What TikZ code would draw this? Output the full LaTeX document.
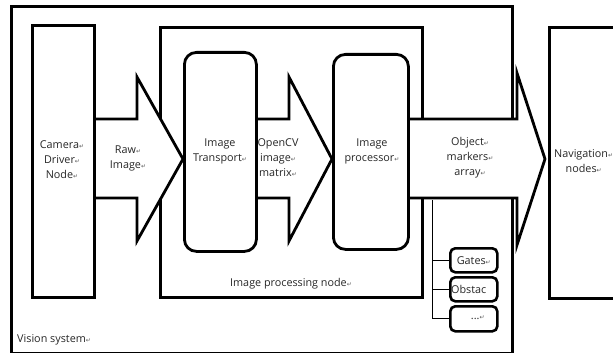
\documentclass[tikz,border=0pt]{standalone}
\usepackage{fontspec}
\setmainfont{Open Sans}
\newfontfamily\markfont{DejaVu Sans}
% paragraph mark that follows each line of text
\newcommand{\pmark}{{\markfont\fontsize{6}{6}\selectfont\color{black!65}↵}}
\tikzset{
  frame/.style={draw, line width=2.9pt, inner sep=0pt, anchor=north west},
  box/.style={draw, fill=white, line width=2.8pt, inner sep=0pt, anchor=north west},
  rbox/.style={box, rounded corners=12pt},
  tag/.style={box, line width=2.6pt, rounded corners=5pt},
  blk/.style={draw, fill=white, line width=2.8pt, line join=miter},
  lbl/.style={font=\fontsize{10.8}{15}\selectfont, align=center, inner sep=0pt, text=black!85},
  branch/.style={draw, line width=1pt}
}
\begin{document}
\begin{tikzpicture}[x=1pt,y=-1pt]
\useasboundingbox (0,0) rectangle (613,353);
\clip (0,0) rectangle (613,353);

% enclosing frames
\node[frame, minimum width=501pt, minimum height=347pt] (vision) at (10,5) {};
\node[frame, line width=2.8pt, minimum width=262pt, minimum height=270pt] (ipn) at (159,26) {};

% downstream consumer
\node[box, minimum width=110pt, minimum height=271pt] (nav) at (548,26) {};

% block arrows carrying the data between stages
\draw[blk] (93,119) -- (137,119) -- (137,77) -- (183,159) -- (137,241) -- (137,198) -- (93,198) -- cycle;
\draw[blk] (255,119) -- (289,119) -- (289,77) -- (332,159) -- (289,241) -- (289,198) -- (255,198) -- cycle;
\draw[blk] (407,119) -- (517,119) -- (517,73) -- (545,159) -- (517,245) -- (517,198) -- (407,198) -- cycle;

% processing stages
\node[box, minimum width=62pt, minimum height=272pt] (cam) at (31,24) {};
\node[rbox, minimum width=72pt, minimum height=199pt] (trans) at (183,51) {};
\node[rbox, minimum width=75pt, minimum height=195pt] (proc) at (332,53) {};

% marker types
\node[tag, minimum width=47pt, minimum height=24pt] (gates) at (449,247) {};
\node[tag, minimum width=47pt, minimum height=24pt] (obst) at (449,276) {};
\node[tag, minimum width=47pt, minimum height=25pt] (more) at (449,305) {};
\coordinate (treetop) at (432,200);
\draw[branch] (treetop) |- (more.west);
\draw[branch] (treetop |- gates.west) -- (gates.west);
\draw[branch] (treetop |- obst.west) -- (obst.west);

% texts
\node[lbl] (camlbl) at (62,160) {Camera\pmark\\Driver\pmark\\Node\pmark};
\node[lbl] (rawlbl) at (128,158) {Raw\pmark\\Image\pmark};
\node[lbl] (translbl) at (220,151) {Image\\Transport\pmark};
\node[lbl] (cvlbl) at (278,158) {OpenCV\\image\pmark\\matrix\pmark};
\node[lbl] (proclbl) at (372,151) {Image\\processor\pmark};
\node[lbl] (objlbl) at (470,158) {Object\pmark\\markers\pmark\\array\pmark};
\node[lbl, anchor=west] (navlbl) at (554,161) {Navigation\pmark\\nodes\pmark};
\node[lbl] (ipnlbl) at (291,284) {Image processing node\pmark};
\node[lbl, anchor=west] (visionlbl) at (17,340) {Vision system\pmark};
\node[lbl] (gateslbl) at (gates.center) {Gates\pmark};
\node[lbl, anchor=west] (obstlbl) at ([xshift=2pt]obst.west) {Obstac};
\node[lbl] (morelbl) at ([xshift=4pt,yshift=1pt]more.center) {...\pmark};
\end{tikzpicture}
\end{document}
